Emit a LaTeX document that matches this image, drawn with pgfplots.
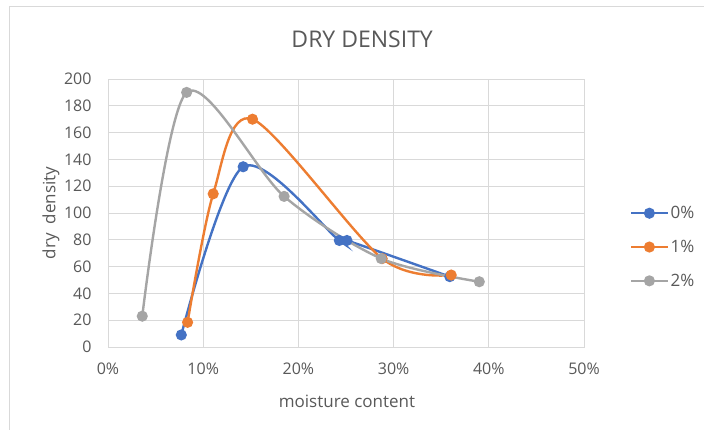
\documentclass[border=0pt]{standalone}
\usepackage{pgfplots}
\pgfplotsset{compat=1.18}
\usepackage{fontspec}
\setmainfont{Open Sans}
\definecolor{c0}{HTML}{4472C4}
\definecolor{c1}{HTML}{ED7D31}
\definecolor{c2}{HTML}{A5A5A5}
\definecolor{txt}{HTML}{595959}
\definecolor{grd}{HTML}{D9D9D9}
\begin{document}
\begin{tikzpicture}[x=1pt,y=1pt]
\useasboundingbox (0,0) rectangle (704,430);
\fill[white] (0,0) rectangle (704,430);
\draw[grd, line width=1pt] (9,-5) rectangle (712,423);
\begin{axis}[
  at={(108pt,83pt)}, anchor=south west,
  scale only axis, width=476pt, height=268pt,
  xmin=0, xmax=50, ymin=0, ymax=200,
  xtick={0,10,...,50}, ytick={0,20,...,200},
  xticklabel={\pgfmathprintnumber{\tick}\%},
  grid=major, grid style={grd, line width=0.9pt},
  axis line style={grd, line width=0.9pt},
  major tick length=0pt,
  tick label style={font=\fontsize{16}{16}\selectfont, text=txt},
  xticklabel style={yshift=-12pt},
  yticklabel style={xshift=-13pt},
  /pgf/number format/assume math mode=true,
  title={DRY DENSITY},
  title style={at={(rel axis cs:0.534,1.125)}, anchor=center, font=\fontsize{23}{23}\selectfont, text=txt},
  xlabel={moisture content},
  xlabel style={at={(rel axis cs:0.502,-0.202)}, anchor=center, font=\fontsize{17}{17}\selectfont, text=txt},
  ylabel={dry\ \ density},
  ylabel style={at={(rel axis cs:-0.12,0.5)}, anchor=center, rotate=0, font=\fontsize{17}{17}\selectfont, text=txt},
  legend style={at={(1,0.373)}, anchor=west, xshift=46pt, draw=none, fill=none,
    font=\fontsize{17}{17}\selectfont, text=txt, row sep=16pt, inner sep=0pt,
    legend cell align=left},
  legend image code/.code={\draw[mark repeat=2,mark phase=2,#1] plot coordinates {(0pt,0pt)(18pt,0pt)(36pt,0pt)};},
  every axis plot/.append style={line width=2.4pt, mark=*, mark size=4.3pt, smooth, tension=0.5},
]
\addplot[c0, mark options={fill=c0, draw=c0}] coordinates {
 (7.7,9) (14.2,134.5) (24.3,79.5) (25.1,79.5) (35.9,52.5)};
\addlegendentry{0\%}
\addplot[c1, mark options={fill=c1, draw=c1}] coordinates {
 (8.36,18.4) (11.05,114.3) (15.18,170) (28.8,66) (36.05,53.7)};
\addlegendentry{1\%}
\addplot[c2, mark options={fill=c2, draw=c2}] coordinates {
 (3.6,23) (8.26,190) (18.5,112.4) (28.7,66) (39.0,48.7)};
\addlegendentry{2\%}
\end{axis}
\end{tikzpicture}
\end{document}
